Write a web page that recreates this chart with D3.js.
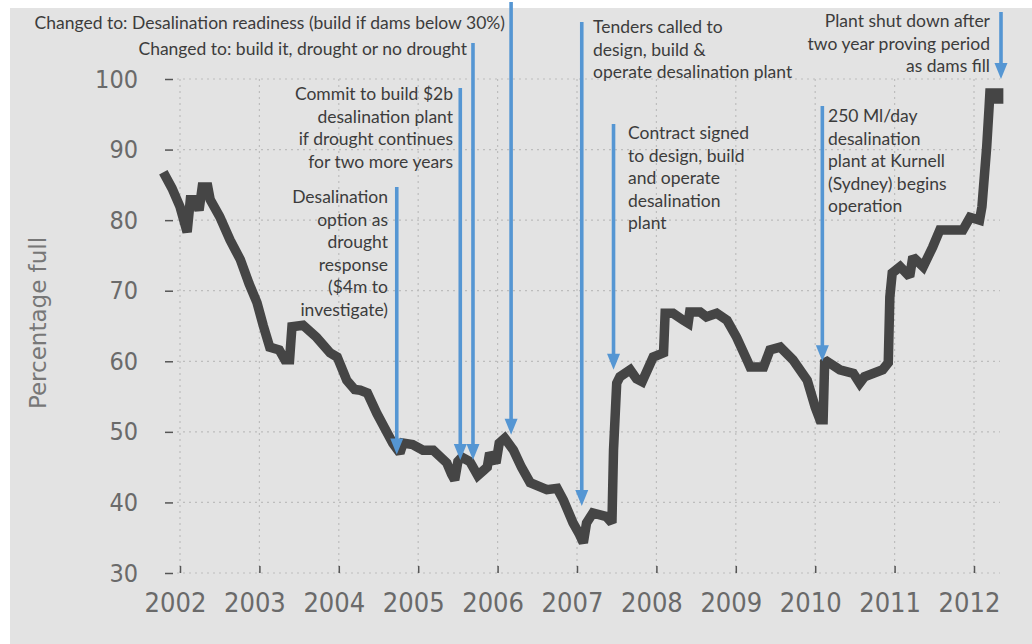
<!DOCTYPE html>
<html>
<head>
<meta charset="utf-8">
<script src="https://cdn.jsdelivr.net/npm/d3@7"></script>
<style>
  html, body { margin: 0; padding: 0; background: #ffffff; }
  svg { display: block; }
</style>
</head>
<body>
<svg id="chart" width="1032" height="644"></svg>
<script>
// ---- Data ----
const years = [2002, 2003, 2004, 2005, 2006, 2007, 2008, 2009, 2010, 2011, 2012];
const yTicks = [30, 40, 50, 60, 70, 80, 90, 100];

// time as decimal year
const dates = [
  2001.79, 2001.9, 2002.0, 2002.09, 2002.13, 2002.2, 2002.24, 2002.28, 2002.35, 2002.38,
  2002.5, 2002.63, 2002.76, 2002.87, 2002.97, 2003.05, 2003.13, 2003.25, 2003.32, 2003.38,
  2003.41, 2003.55, 2003.72, 2003.89, 2003.98, 2004.1, 2004.2, 2004.27, 2004.36, 2004.48,
  2004.68, 2004.77, 2004.81, 2004.93, 2005.06, 2005.19, 2005.36, 2005.42, 2005.46, 2005.5,
  2005.55, 2005.65, 2005.75, 2005.82, 2005.87, 2005.9, 2005.98, 2006.02, 2006.09, 2006.2,
  2006.3, 2006.41, 2006.62, 2006.75, 2006.83, 2006.95, 2007.03, 2007.08, 2007.12, 2007.2,
  2007.37, 2007.44, 2007.46, 2007.5, 2007.54, 2007.67, 2007.75, 2007.82, 2007.96, 2008.09,
  2008.11, 2008.21, 2008.34, 2008.4, 2008.42, 2008.55, 2008.63, 2008.76, 2008.89, 2009.01,
  2009.14, 2009.18, 2009.35, 2009.43, 2009.56, 2009.72, 2009.9, 2010.0, 2010.06, 2010.1,
  2010.12, 2010.31, 2010.48, 2010.56, 2010.62, 2010.85, 2010.92, 2010.94, 2010.97, 2011.07,
  2011.19, 2011.23, 2011.36, 2011.48, 2011.57, 2011.86, 2011.95, 2012.07, 2012.1, 2012.16,
  2012.19, 2012.2, 2012.31, 2012.31
];
const percentFull = [
  86.8, 84.5, 81.9, 78.3, 82.9, 82.9, 81.4, 84.7, 84.7, 82.9,
  80.5, 77.2, 74.4, 71.0, 68.3, 65.0, 62.0, 61.6, 60.2, 60.2,
  64.9, 65.1, 63.4, 61.2, 60.6, 57.3, 56.0, 55.9, 55.5, 52.6,
  48.4, 47.0, 48.4, 48.2, 47.4, 47.4, 45.6, 44.0, 43.2, 45.8,
  46.4, 45.8, 43.8, 44.5, 45.0, 47.0, 45.6, 48.4, 49.1, 47.4,
  45.0, 42.8, 41.8, 42.0, 40.3, 37.1, 35.5, 34.3, 37.1, 38.5,
  38.0, 37.1, 47.4, 56.9, 57.8, 58.8, 57.5, 57.1, 60.6, 61.2,
  66.8, 66.8, 65.8, 65.4, 67.0, 67.0, 66.3, 66.8, 65.8, 63.4,
  60.2, 59.2, 59.2, 61.6, 62.0, 60.2, 57.3, 53.5, 51.7, 51.7,
  60.2, 58.8, 58.3, 56.9, 57.8, 58.8, 59.8, 69.1, 72.5, 73.4,
  72.0, 74.8, 73.4, 76.2, 78.6, 78.6, 80.4, 80.0, 81.9, 90.4,
  96.0, 98.0, 98.0, 96.5
];

// annotations: event date, arrow tip value, text lines
const noteDates = [2004.73, 2005.53, 2005.69, 2006.17, 2007.06, 2007.46, 2010.09, 2012.34];
const noteTexts = [
  ["Desalination", "option as", "drought", "response", "($4m to", "investigate)"],
  ["Commit to build $2b", "desalination plant", "if drought continues", "for two more years"],
  ["Changed to: build it, drought or no drought"],
  ["Changed to: Desalination readiness (build if dams below 30%)"],
  ["Tenders called to", "design, build &", "operate desalination plant"],
  ["Contract signed", "to design, build", "and operate", "desalination", "plant"],
  ["250 Ml/day", "desalination", "plant at Kurnell", "(Sydney) begins", "operation"],
  ["Plant shut down after", "two year proving period", "as dams fill"]
];
const noteTipValues = [46.8, 46.0, 46.0, 49.6, 39.5, 58.8, 60.0, 100.0];

// ---- Layout ----
const svg = d3.select("#chart");
const W = 1032, H = 644;

svg.append("rect").attr("x", 10).attr("y", 8).attr("width", W - 10).attr("height", H - 8)
  .attr("fill", "#e3e3e3");

const x = d3.scaleLinear().domain([2002, 2012]).range([180, 974]);
const y = d3.scaleLinear().domain([30, 100]).range([573, 79]);

const gridColor = "#bdbdbd";
svg.append("g").selectAll("line").data(yTicks).join("line")
  .attr("x1", 177).attr("x2", 1000)
  .attr("y1", d => y(d)).attr("y2", d => y(d))
  .attr("stroke", gridColor).attr("stroke-width", 1.2).attr("stroke-dasharray", "2,4");
svg.append("g").selectAll("line").data(years).join("line")
  .attr("x1", d => x(d)).attr("x2", d => x(d))
  .attr("y1", y(100)).attr("y2", y(30))
  .attr("stroke", gridColor).attr("stroke-width", 1.2).attr("stroke-dasharray", "2,4");

// y axis
const yAxis = d3.axisLeft(y).tickValues(yTicks).tickSize(8).tickPadding(27).tickFormat(d3.format("d"));
const gy = svg.append("g").attr("transform", "translate(173,0)").call(yAxis);
gy.select(".domain").remove();
gy.selectAll(".tick line").attr("stroke", "#555").attr("stroke-width", 1.5);
gy.selectAll(".tick text").attr("fill", "#6a6a6a")
  .style("font-family", "'DejaVu Sans Condensed', 'DejaVu Sans', sans-serif").style("font-size", "25px");

// x axis
const xAxis = d3.axisBottom(x).tickValues(years).tickSizeInner(-7).tickSizeOuter(0).tickPadding(20).tickFormat(d3.format("d"));
const gx = svg.append("g").attr("transform", "translate(0,573)").call(xAxis);
gx.select(".domain").remove();
gx.selectAll(".tick line").attr("stroke", "#555").attr("stroke-width", 1.5);
gx.selectAll(".tick text").attr("fill", "#6a6a6a").attr("dx", -5)
  .style("font-family", "'DejaVu Sans Condensed', 'DejaVu Sans', sans-serif").style("font-size", "27px");

// y label
svg.append("text")
  .attr("transform", "translate(46,323) rotate(-90)")
  .attr("text-anchor", "middle")
  .attr("fill", "#777")
  .style("font-family", "'DejaVu Sans', sans-serif").style("font-size", "23px")
  .text("Percentage full");

// line
const series = dates.map((d, i) => ({ t: d, v: percentFull[i] }));
const line = d3.line().x(d => x(d.t)).y(d => y(d.v));
svg.append("path").datum(series)
  .attr("d", line)
  .attr("fill", "none").attr("stroke", "#454545").attr("stroke-width", 9.5)
  .attr("stroke-linejoin", "miter").attr("stroke-miterlimit", 2).attr("stroke-linecap", "butt");

// annotations
const blue = "#5596d3";
const noteLayout = [
  { top: 187, tx: 388, ty: 203, anchor: "end" },
  { top: 88, tx: 453, ty: 100, anchor: "end" },
  { top: 43, tx: 467, ty: 55, anchor: "end" },
  { top: 2, tx: 505, ty: 29, anchor: "end" },
  { top: 22, tx: 593, ty: 33, anchor: "start" },
  { top: 124, tx: 628, ty: 139, anchor: "start" },
  { top: 106, tx: 828, ty: 122, anchor: "start" },
  { top: 12, tx: 990, ty: 27, anchor: "end" }
];
const lineGap = 22.5;
const headLen = 16, headW = 13;
const notes = svg.append("g");
noteDates.forEach((d, i) => {
  const ax = x(d);
  const tip = y(noteTipValues[i]);
  const L = noteLayout[i];
  notes.append("line").attr("x1", ax).attr("x2", ax).attr("y1", L.top).attr("y2", tip - headLen + 1)
    .attr("stroke", blue).attr("stroke-width", 3.6);
  notes.append("path")
    .attr("d", `M${ax - headW / 2},${tip - headLen} L${ax + headW / 2},${tip - headLen} L${ax},${tip} Z`)
    .attr("fill", blue);
  const t = notes.append("text")
    .attr("text-anchor", L.anchor)
    .attr("fill", "#3c3c3c")
    .style("font-family", "Lato, 'Open Sans', sans-serif").style("font-size", "17.5px");
  noteTexts[i].forEach((s, j) => {
    t.append("tspan").attr("x", L.tx).attr("y", L.ty + j * lineGap).text(s);
  });
});
</script>
</body>
</html>
